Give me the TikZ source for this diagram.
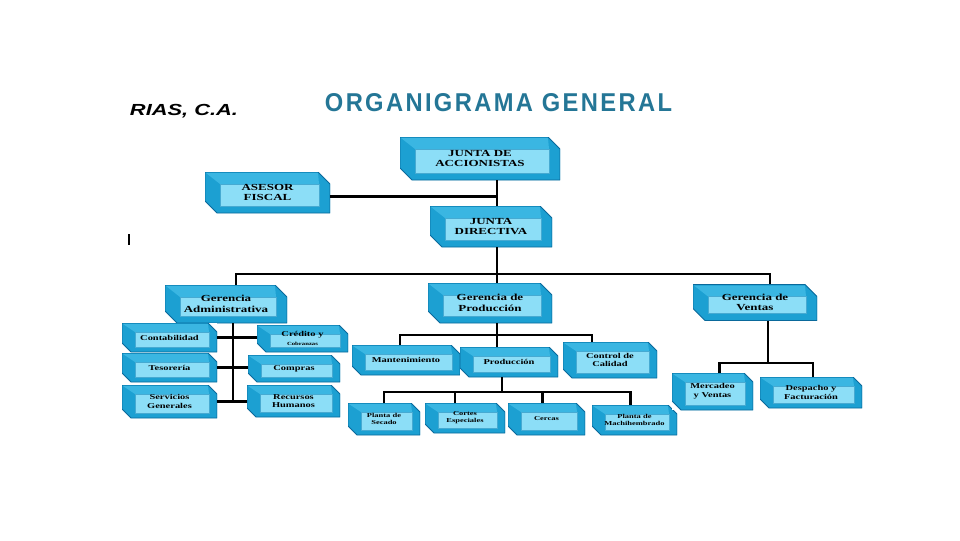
\documentclass[tikz,border=0pt]{standalone}
\usepackage{graphicx}
\usepackage{fontspec}
\setmainfont{Liberation Serif}
\newfontfamily\bxfont[FakeStretch=1.4]{Liberation Serif}
\newfontfamily\ttlfont[LetterSpace=10]{Liberation Sans}
\newfontfamily\riasfont{Liberation Sans}
\usetikzlibrary{calc}
\definecolor{boxmid}{RGB}{28,160,210}
\definecolor{boxtop}{RGB}{58,182,226}
\definecolor{boxdark}{RGB}{10,105,155}
\definecolor{boxlight}{RGB}{140,222,247}
\definecolor{boxedge}{RGB}{70,170,210}
\definecolor{ttl}{RGB}{36,118,150}
\tikzset{
  box3d/.style n args={5}{
    fill=white, draw=none, inner sep=0pt, align=center, text=black,
    path picture={
      \path[fill=boxmid, draw=boxdark, line width=0.6pt]
        (path picture bounding box.north west)
        -- ([shift={(-#1,0)}]path picture bounding box.north east)
        -- ([shift={(0,#1)}]path picture bounding box.north east)
        -- (path picture bounding box.south east)
        -- ([shift={(#1,0)}]path picture bounding box.south west)
        -- ([shift={(0,-#1)}]path picture bounding box.south west)
        -- cycle;
      \path[fill=boxtop]
        ([shift={(1,1)}]path picture bounding box.north west)
        -- ([shift={(-#1,1)}]path picture bounding box.north east)
        -- ([shift={(-#4,#3)}]path picture bounding box.north east)
        -- ([shift={(#2,#3)}]path picture bounding box.north west)
        -- cycle;
      \path[fill=boxlight, draw=boxedge, line width=0.4pt]
        ([shift={(#2,#3)}]path picture bounding box.north west)
        rectangle ([shift={(-#4,-#5)}]path picture bounding box.south east);
    }
  },
  bigbox/.style 2 args={box3d={12}{15}{12}{11}{7},
    minimum width=#1*0.025cm, minimum height=#2*0.025cm,
    font=\bxfont\bfseries\fontsize{6.6}{7.6}\selectfont},
  midbox/.style 2 args={box3d={9}{13}{9}{8}{5},
    minimum width=#1*0.025cm, minimum height=#2*0.025cm,
    font=\bxfont\bfseries\fontsize{5.3}{6.2}\selectfont},
  smallbox/.style 2 args={box3d={9}{13}{9}{8}{5},
    minimum width=#1*0.025cm, minimum height=#2*0.025cm,
    font=\bxfont\bfseries\fontsize{4.3}{5.1}\selectfont},
  conn/.style={draw=black, line width=1.6pt, line join=miter}
}
\begin{document}
\begin{tikzpicture}[x=0.025cm, y=-0.025cm]
\useasboundingbox[fill=white] (0,0) rectangle (960,540);

% titles
\node[font=\ttlfont\bfseries, text=ttl, inner sep=0pt] (title) at (498.5,103)
  {\resizebox{8.675cm}{0.45cm}{ORGANIGRAMA GENERAL}};
\node[font=\riasfont\bfseries\itshape, text=black, inner sep=0pt] (rias) at (184,111)
  {\resizebox{2.7cm}{0.28cm}{RIAS, C.A.}};
\fill[black] (128,234) rectangle (130,245);

% top level
\node[bigbox={160}{43}] (ja) at (480,158.5) {JUNTA DE\\ACCIONISTAS};
\node[bigbox={125}{41}] (af) at (267.5,192.5) {ASESOR\\FISCAL};
\node[bigbox={122}{41}] (jd) at (491,226.5) {JUNTA\\DIRECTIVA};

% gerencias
\node[bigbox={122}{38}] (ga) at (226,304) {Gerencia\\Administrativa};
\node[bigbox={124}{40}] (gp) at (490,303) {Gerencia de\\Producción};
\node[bigbox={124}{36}] (gv) at (755,302.5) {Gerencia de\\Ventas};

% administracion
\node[midbox={95}{29}] (cont) at (169.5,337.5) {Contabilidad};
\node[midbox={91}{27}] (cred) at (302.5,338.5) {Crédito y\\{\fontsize{3.4}{4}\selectfont Cobranzas}};
\node[midbox={95}{29}] (teso) at (169.5,367.5) {Tesorería};
\node[midbox={92}{27}] (comp) at (294,368.5) {Compras};
\node[midbox={95}{33}] (serv) at (169.5,401.5) {Servicios\\Generales};
\node[midbox={93}{32}] (rrhh) at (293.5,401) {Recursos\\Humanos};

% produccion
\node[midbox={108}{30}] (mant) at (406,360) {Mantenimiento};
\node[midbox={98}{30}] (prod) at (509,362) {Producción};
\node[midbox={94}{36}] (cc) at (610,360) {Control de\\Calidad};
\node[smallbox={72}{32}] (ps) at (384,419) {Planta de\\Secado};
\node[smallbox={80}{30}] (ce) at (465,418) {Cortes\\Especiales};
\node[smallbox={77}{32}] (gr) at (546.5,419) {Cercas};
\node[smallbox={85}{30}] (pa) at (634.5,420) {Planta de\\Machihembrado};

% ventas
\node[midbox={81}{37}] (mv) at (712.5,391.5) {Mercadeo\\y Ventas};
\node[midbox={102}{31}] (df) at (811,392.5) {Despacho y\\Facturación};

% connectors: top
\coordinate (s1) at (497,190);
\draw[conn] (ja.south -| s1) -- (jd.north -| s1);
\coordinate (afc) at ($(af.east)+(0,4)$);
\draw[conn] (afc) -- (afc -| s1);
\coordinate (b1) at (497,274);
\draw[conn] (jd.south -| b1) -- (b1);
\coordinate (gat) at ($(ga.north)+(10,0)$);
\coordinate (gvt) at ($(gv.north)+(15,0)$);
\draw[conn] (gat) |- (b1) -| (gvt);
\draw[conn] (b1) -- (gp.north -| b1);

% administracion
\coordinate (g1) at (233,323);
\draw[conn] (ga.south -| g1) -- (g1 |- serv.east);
\draw[conn] (cont.east) -- (cont.east -| cred.west);
\draw[conn] (teso.east) -- (teso.east -| comp.west);
\draw[conn] (serv.east) -- (serv.east -| rrhh.west);

% produccion
\coordinate (b2) at (497,335);
\draw[conn] (gp.south -| b2) -- (b2);
\coordinate (mt) at ($(mant.north)+(-6,0)$);
\coordinate (cct) at ($(cc.north)+(-18,0)$);
\draw[conn] (mt) |- (b2) -| (cct);
\draw[conn] (b2) -- (prod.north -| b2);
\coordinate (b3) at (502,392);
\draw[conn] (prod.south -| b3) -- (b3);
\coordinate (pat) at ($(pa.north)+(-4,0)$);
\draw[conn] (ps.north) |- (b3) -| (pat);
\coordinate (cet) at ($(ce.north)+(-10,0)$);
\draw[conn] (cet) -- (cet |- b3);
\coordinate (grt) at ($(gr.north)+(-4,0)$);
\draw[conn] (grt) -- (grt |- b3);

% ventas
\coordinate (b4) at (768,363);
\draw[conn] (gv.south -| b4) -- (b4);
\coordinate (mvt) at ($(mv.north)+(7,0)$);
\coordinate (dft) at ($(df.north)+(2,0)$);
\draw[conn] (mvt) |- (b4) -| (dft);
\end{tikzpicture}
\end{document}
